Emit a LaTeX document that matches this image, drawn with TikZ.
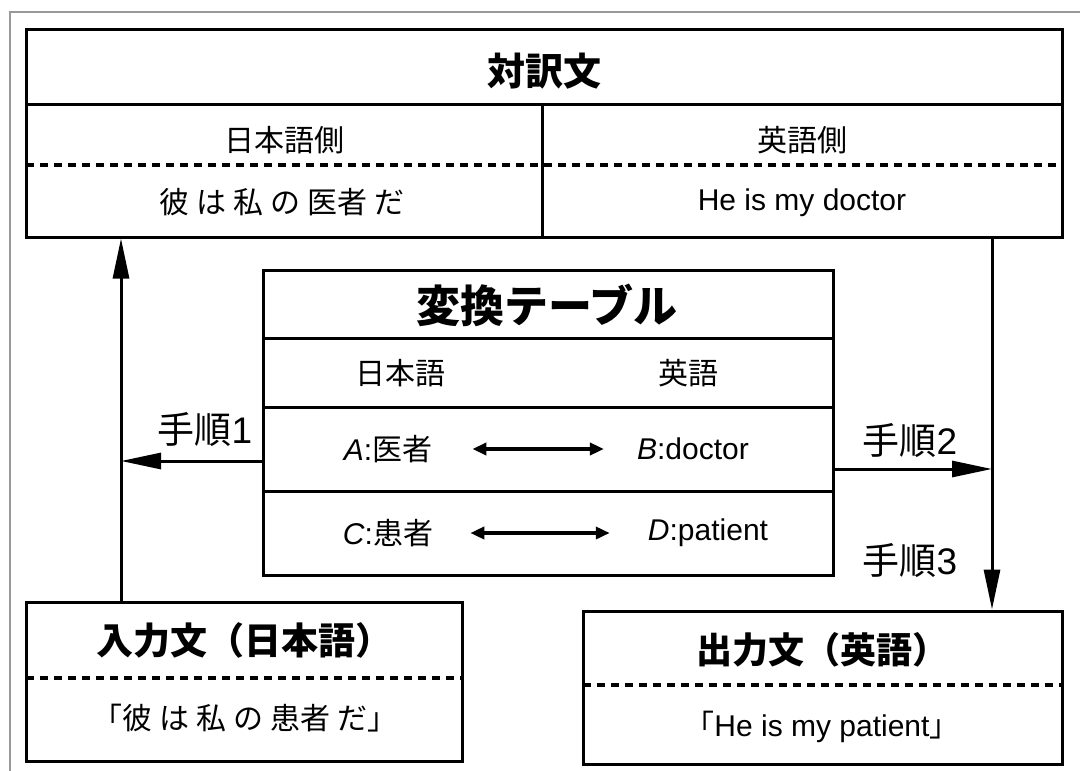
\documentclass[tikz,border=0pt]{standalone}
\usepackage{fontspec}
\setmainfont{Liberation Sans}
\newfontfamily\jp{Noto Sans CJK JP}
\usetikzlibrary{arrows.meta}
\tikzset{
  box/.style={draw, line width=3pt, inner sep=0pt},
  sep/.style={line width=3pt},
  dsep/.style={line width=3.2pt, dash pattern=on 8pt off 6pt},
  arr/.style={line width=3pt, -{Triangle[length=40pt,width=16pt]}},
  darr/.style={line width=3.5pt, {Triangle[length=14pt,width=12pt]}-{Triangle[length=14pt,width=12pt]}},
  txt/.style={inner sep=0pt, font=\fontsize{30}{34}\selectfont},
  lbl/.style={inner sep=0pt, font=\fontsize{37}{40}\selectfont},
  ttl/.style={inner sep=0pt, font=\fontsize{37}{40}\selectfont\jp\bfseries},
  frame/.style={draw=gray!80, line width=1.5pt}
}
\begin{document}
\begin{tikzpicture}[x=1pt,y=-1pt]
\useasboundingbox (0,0) rectangle (1080,771);
\draw[frame] (1080,12) -- (10,12) -- (10,771);
% top box
\node[box, minimum width=1036pt, minimum height=208pt] (top) at (544,133) {};
\draw[sep] (26,104) -- (1062,104);
\draw[sep] (542,104) -- (542,237);
\draw[dsep] (26,165) -- (1062,165);
\node[ttl, font=\fontsize{38}{40}\selectfont\jp\bfseries] (toptitle) at (544,71) {対訳文};
\node[txt] (jside) at (284,140) {\jp 日本語側};
\node[txt] (eside) at (802,140) {\jp 英語側};
\node[txt] (jsent) at (282,202) {\jp 彼\hspace{7pt}は\hspace{7pt}私\hspace{7pt}の\hspace{7pt}医者\hspace{7pt}だ};
\node[txt] (esent) at (802,203) {He is my doctor};
% middle table
\node[box, minimum width=570pt, minimum height=305pt] (tab) at (548,422.5) {};
\draw[sep] (263,338) -- (833,338);
\draw[sep] (263,407) -- (833,407);
\draw[sep] (263,491) -- (833,491);
\node[inner sep=0pt, font=\fontsize{44}{48}\selectfont\jp\bfseries] (tabtitle) at (547,305) {変換テーブル};
\node[txt] (hj) at (400,373) {\jp 日本語};
\node[txt] (he) at (688,373) {\jp 英語};
\node[txt] (a) at (388,449) {\textit{A}:{\jp 医者}};
\node[txt] (b) at (693,449) {\textit{B}:doctor};
\node[txt] (c) at (388,533) {\textit{C}:{\jp 患者}};
\node[txt] (d) at (708,533) {\textit{D}:patient};
\draw[darr, shorten <=40pt, shorten >=33pt] (a.east) -- (b.west);
\draw[darr, shorten <=37pt, shorten >=38pt] (c.east) -- (d.west);
% input box
\node[box, minimum width=436pt, minimum height=159pt] (in) at (244,681.5) {};
\draw[dsep] (26,678) -- (462,678);
\node[ttl] (intitle) at (244,640) {入力文（日本語）};
\node[txt] (insent) at (245,718) {\jp 「彼\hspace{7pt}は\hspace{7pt}私\hspace{7pt}の\hspace{7pt}患者\hspace{7pt}だ」};
% output box
\node[box, minimum width=479pt, minimum height=153pt] (out) at (822.5,687.5) {};
\draw[dsep] (583,685) -- (1062,685);
\node[ttl, font=\fontsize{36}{40}\selectfont\jp\bfseries] (outtitle) at (822,650) {出力文（英語）};
\node[txt] (outsent) at (822,727) {{\jp 「}He is my patient{\jp 」}};
% connectors
\coordinate (lx) at (121,0);
\coordinate (rx) at (992,0);
\coordinate (l1) at (263,461);
\coordinate (r1) at (833,469);
\draw[arr] (in.north -| lx) -- (top.south -| lx);
\draw[arr] (l1) -- (l1 -| lx);
\draw[arr] (r1) -- (r1 -| rx);
\draw[arr] (top.south -| rx) -- (out.north -| rx);
\node[lbl] (s1) at (205,429) {{\jp 手順}1};
\node[lbl] (s2) at (910,440) {{\jp 手順}2};
\node[lbl] (s3) at (910,560) {{\jp 手順}3};
\end{tikzpicture}
\end{document}
